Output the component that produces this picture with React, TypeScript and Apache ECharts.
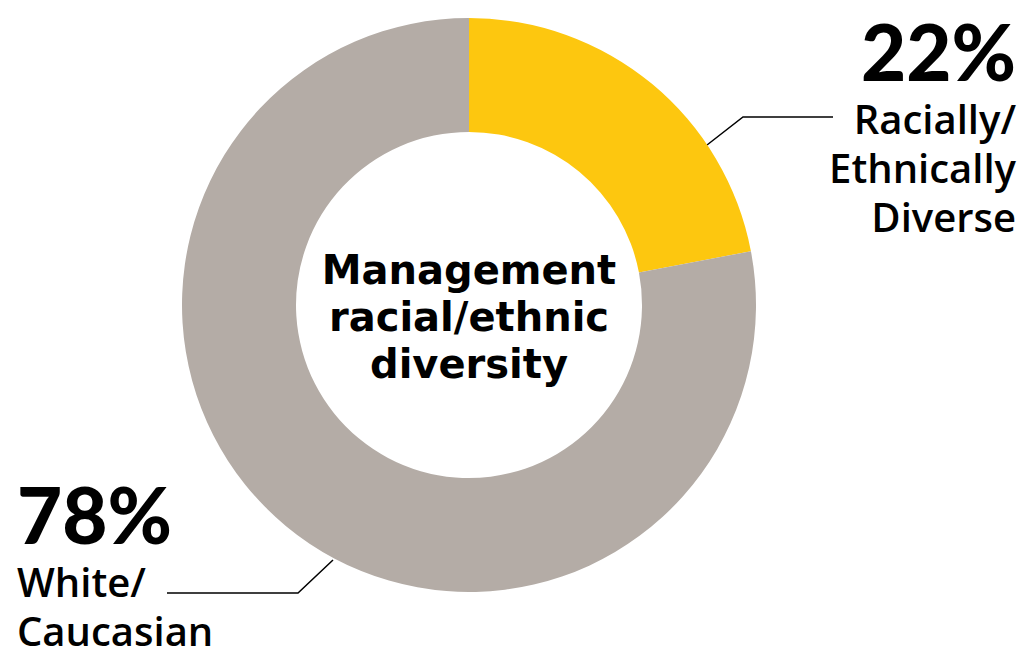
import React, { useEffect, useRef } from "react";
import * as echarts from "echarts";

const categories = ["Racially/\nEthnically\nDiverse", "White/\nCaucasian"];
const values = [22, 78];
const colors = ["#FDC70F", "#B4ACA6"];
const centerTitle = "Management\nracial/ethnic\ndiversity";

export default function App() {
  const ref = useRef<HTMLDivElement>(null);
  useEffect(() => {
    if (!ref.current) return;
    const chart = echarts.init(ref.current, null, { renderer: "svg" });
    const cx = 469;
    const cy = 305;
    chart.setOption({
      animation: false,
      backgroundColor: "#ffffff",
      graphic: [
        {
          type: "text",
          x: cx,
          y: 317,
          style: {
            text: centerTitle,
            fill: "#000",
            font: "bold 40px 'DejaVu Sans'",
            align: "center",
            verticalAlign: "middle",
            lineHeight: 47,
          },
        },
      ],
      series: [
        {
          type: "pie",
          center: [cx, cy],
          radius: [173, 287],
          startAngle: 90,
          clockwise: true,
          silent: true,
          data: categories.map((c, i) => ({
            name: c,
            value: values[i],
            itemStyle: { color: colors[i] },
          })),
          label: {
            show: true,
            formatter: (p: any) => {
              const lines = String(p.name).split("\n").map((l: string) => `{name|${l}}`);
              return `{pct|${p.value}%}\n` + lines.join("\n");
            },
            rich: {
              pct: {
                fontFamily: "Lato",
                fontWeight: 900,
                fontSize: 78,
                lineHeight: 86,
                color: "#000",
              },
              name: {
                fontFamily: "Open Sans",
                fontWeight: 600,
                fontSize: 40,
                lineHeight: 49,
                color: "#000",
              },
            },
          },
          labelLine: {
            show: true,
            lineStyle: { color: "#000", width: 1.5 },
          },
          labelLayout: (params: any) => {
            if (params.dataIndex === 0) {
              return {
                x: 1016,
                y: 8,
                align: "right",
                verticalAlign: "top",
                labelLinePoints: [
                  [707, 145],
                  [743, 117],
                  [833, 117],
                ],
              };
            }
            return {
              x: 17,
              y: 471,
              align: "left",
              verticalAlign: "top",
              labelLinePoints: [
                [333, 560],
                [298, 593],
                [167, 593],
              ],
            };
          },
        },
      ],
    });
    return () => chart.dispose();
  }, []);
  return (
    <div
      ref={ref}
      style={{ position: "fixed", left: 0, top: 0, width: 1026, height: 664 }}
    />
  );
}
